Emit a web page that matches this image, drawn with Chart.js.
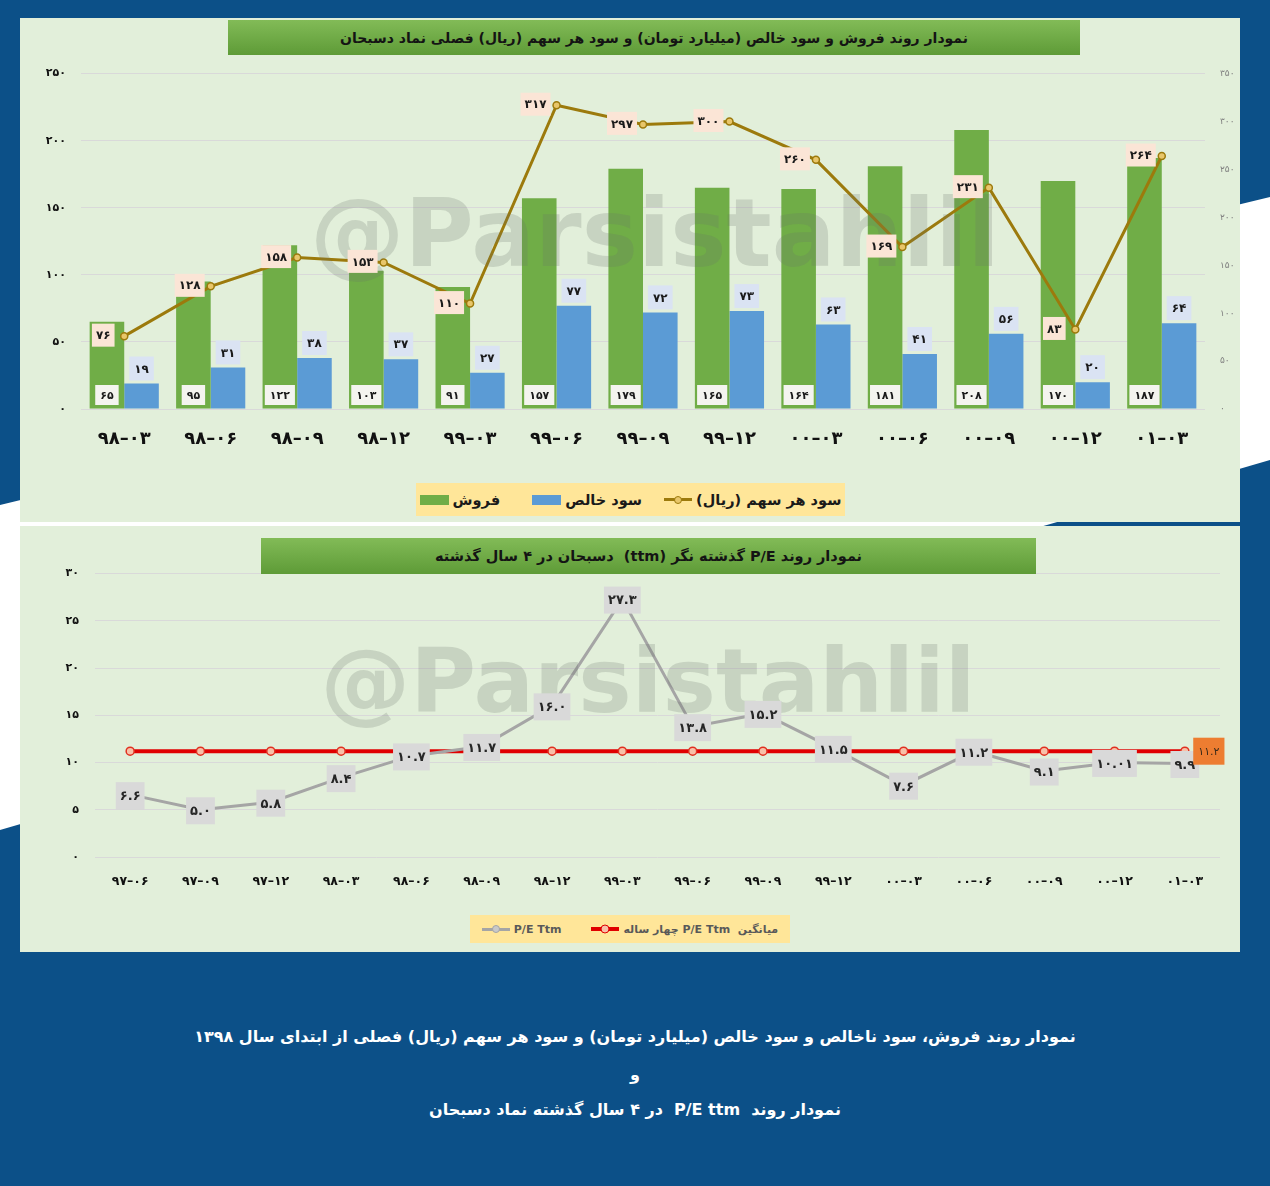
<!DOCTYPE html>
<html lang="fa">
<head>
<meta charset="utf-8">
<title>دسبحان</title>
<script src="https://cdn.jsdelivr.net/npm/chart.js@4.4.1/dist/chart.umd.min.js"></script>
<style>
  body { margin:0; width:1270px; height:1186px; position:relative; overflow:hidden; background:#0c5088; font-family:'DejaVu Sans', sans-serif; }
  #band { position:absolute; left:0; top:0; width:1270px; height:1186px; background:#fff;
          clip-path: polygon(0 505px, 1270px 197px, 1270px 460px, 0 830px); }
  .panel { position:absolute; left:20px; width:1220px; background:#e2efda; }
  .titlebar { position:absolute; background:linear-gradient(#82bb57,#5e9b37); color:#141414; font-weight:bold;
              display:flex; align-items:center; justify-content:center; white-space:nowrap; }
  canvas { position:absolute; }
  .legend { position:absolute; background:#ffe699; display:flex; align-items:center; justify-content:center; white-space:nowrap; }
  .legend .item { display:flex; align-items:center; }
  .rect { display:inline-block; width:29px; height:10px; margin-right:4px; }
  .lic { position:relative; display:inline-block; width:28px; height:3px; margin-right:4px; }
  .lic i { position:absolute; left:50%; top:50%; width:6px; height:6px; border-radius:50%; transform:translate(-50%,-50%); }
  .caption { position:absolute; left:0; width:1270px; text-align:center; color:#fff; font-weight:bold; font-size:16px; }
</style>
</head>
<body>
<div id="band"></div>
<div class="panel" style="top:18px;height:504px"></div>
<div class="panel" style="top:526px;height:426px"></div>

<canvas id="chart1" width="1220" height="408" style="left:20px;top:52px"></canvas>
<canvas id="chart2" width="1220" height="349" style="left:20px;top:551px"></canvas>

<div class="titlebar" dir="rtl" style="left:228px;top:20px;width:852px;height:35px;font-size:14px">نمودار روند فروش و سود خالص (میلیارد تومان) و سود هر سهم (ریال) فصلی نماد دسبحان</div>
<div class="titlebar" dir="rtl" style="left:261px;top:538px;width:775px;height:36px;font-size:14.5px">نمودار روند P/E گذشته نگر (ttm)&nbsp; دسبحان در ۴ سال گذشته</div>

<div class="legend" style="left:416px;top:483px;width:429px;height:33px;font-size:14.5px;font-weight:bold;color:#1a1a1a">
  <span class="item"><span class="rect" style="background:#70ad47"></span><span dir="rtl">فروش</span></span>
  <span class="item" style="margin-left:32px"><span class="rect" style="background:#5b9bd5"></span><span dir="rtl">سود خالص</span></span>
  <span class="item" style="margin-left:22px"><span class="lic" style="background:#9c7a0c"><i style="background:#e8c66a;border:1px solid #9c7a0c"></i></span><span dir="rtl">سود هر سهم (ریال)</span></span>
</div>
<div class="legend" style="left:470px;top:915px;width:320px;height:28px;font-size:11px;font-weight:bold;color:#595959">
  <span class="item"><span class="lic" style="background:#a5a5a5"><i style="background:#c9c9c9;border:1px solid #a5a5a5"></i></span><span>P/E Ttm</span></span>
  <span class="item" style="margin-left:30px"><span class="lic" style="background:#e00000;height:4px"><i style="background:#f8c0a8;border:1.5px solid #e00000;width:7px;height:7px"></i></span><span dir="rtl">میانگین&nbsp; P/E Ttm چهار ساله</span></span>
</div>

<div class="caption" dir="rtl" style="top:1027px">نمودار روند فروش، سود ناخالص و سود خالص (میلیارد تومان) و سود هر سهم (ریال) فصلی از ابتدای سال ۱۳۹۸</div>
<div class="caption" dir="rtl" style="top:1065px">و</div>
<div class="caption" dir="rtl" style="top:1100px">نمودار روند&nbsp; P/E ttm&nbsp; در ۴ سال گذشته نماد دسبحان</div>

<script>
// quarterly sales / net profit (billion toman) and EPS (rial)
const quarters = ['98-03', '98-06', '98-09', '98-12', '99-03', '99-06', '99-09', '99-12', '00-03', '00-06', '00-09', '00-12', '01-03'];
const sales = [65, 95, 122, 103, 91, 157, 179, 165, 164, 181, 208, 170, 187];
const netProfit = [19, 31, 38, 37, 27, 77, 72, 73, 63, 41, 56, 20, 64];
const eps = [76, 128, 158, 153, 110, 317, 297, 300, 260, 169, 231, 83, 264];

// P/E ttm for the last 4 years
const peQuarters = ['97-06', '97-09', '97-12', '98-03', '98-06', '98-09', '98-12', '99-03', '99-06', '99-09', '99-12', '00-03', '00-06', '00-09', '00-12', '01-03'];
const peTtm = [6.6, 5.0, 5.8, 8.4, 10.7, 11.7, 16.0, 27.3, 13.8, 15.2, 11.5, 7.6, 11.2, 9.1, 10.01, 9.9];
const peAvg = [11.2, 11.2, 11.2, 11.2, 11.2, 11.2, 11.2, 11.2, 11.2, 11.2, 11.2, 11.2, 11.2, 11.2, 11.2, 11.2];

const FONT = 'DejaVu Sans';

// western digits -> persian digits
function fa(s) {
    return String(s).replace(/\d/g, d => '۰۱۲۳۴۵۶۷۸۹'[d]);
}
// quarter label, keep "98-03" order when drawn
function faQ(s) {
    return fa(s).replace('-', '\u200E–\u200E');
}
function faDec(v) {
    const r = Math.abs(v * 10 - Math.round(v * 10)) < 1e-9 ? v.toFixed(1) : v.toFixed(2);
    return fa(r);
}

function drawBox(ctx, text, cx, cy, bg, color, font, padX, h) {
    ctx.font = font;
    const w = ctx.measureText(text).width + padX * 2;
    ctx.fillStyle = bg;
    ctx.fillRect(cx - w / 2, cy - h / 2, w, h);
    ctx.fillStyle = color;
    ctx.textAlign = 'center';
    ctx.textBaseline = 'middle';
    ctx.fillText(text, cx, cy + 1);
}

// big faded watermark over the plot
function watermark(cx, baseY, width) {
    return {
        id: 'watermark',
        afterDatasetsDraw(chart) {
            const ctx = chart.ctx;
            ctx.save();
            ctx.font = 'bold 100px ' + FONT;
            const w = ctx.measureText('@Parsistahlil').width;
            const size = 100 * width / w;
            ctx.font = 'bold ' + size + 'px ' + FONT;
            ctx.fillStyle = 'rgba(105,115,105,0.22)';
            ctx.textAlign = 'center';
            ctx.textBaseline = 'alphabetic';
            ctx.fillText('@Parsistahlil', cx, baseY);
            ctx.restore();
        }
    };
}

const labels1 = {
    id: 'labels1',
    afterDraw(chart) {
        const ctx = chart.ctx;
        const yScale = chart.scales.y;
        ctx.save();
        chart.getDatasetMeta(0).data.forEach((bar, i) => {
            drawBox(ctx, fa(sales[i]), bar.x, yScale.bottom - 14, '#f4f4ef', '#1a1a1a', 'bold 11px ' + FONT, 5, 20);
        });
        chart.getDatasetMeta(1).data.forEach((bar, i) => {
            drawBox(ctx, fa(netProfit[i]), bar.x, bar.y - 15, '#dae3f3', '#1a1a1a', 'bold 12px ' + FONT, 5, 24);
        });
        chart.getDatasetMeta(2).data.forEach((pt, i) => {
            drawBox(ctx, fa(eps[i]), pt.x - 21, pt.y - 1, '#fbe5d6', '#1a1a1a', 'bold 12px ' + FONT, 4, 23);
        });
        ctx.restore();
    }
};

const labels2 = {
    id: 'labels2',
    afterDraw(chart) {
        const ctx = chart.ctx;
        ctx.save();
        chart.getDatasetMeta(0).data.forEach((pt, i) => {
            drawBox(ctx, faDec(peTtm[i]), pt.x, pt.y + 1, '#d9d9d9', '#262626', 'bold 13px ' + FONT, 4, 27);
        });
        const avgPts = chart.getDatasetMeta(1).data;
        const last = avgPts[avgPts.length - 1];
        drawBox(ctx, faDec(peAvg[peAvg.length - 1]), last.x + 24, last.y, '#ed7d31', '#3a2a1a', '11px ' + FONT, 5, 27);
        ctx.restore();
    }
};

new Chart(document.getElementById('chart1'), {
    type: 'bar',
    data: {
        labels: quarters,
        datasets: [
            { type: 'bar', label: 'فروش', data: sales, backgroundColor: '#70ad47', yAxisID: 'y', order: 1,
              categoryPercentage: 0.8, barPercentage: 1.0 },
            { type: 'bar', label: 'سود خالص', data: netProfit, backgroundColor: '#5b9bd5', yAxisID: 'y', order: 1,
              categoryPercentage: 0.8, barPercentage: 1.0 },
            { type: 'line', label: 'سود هر سهم (ریال)', data: eps, yAxisID: 'y1', order: 0,
              borderColor: '#9c7a0c', borderWidth: 3, tension: 0,
              pointRadius: 3.5, pointBackgroundColor: '#e8c66a', pointBorderColor: '#9c7a0c', pointBorderWidth: 1.5 }
        ]
    },
    options: {
        responsive: false,
        animation: false,
        layout: { padding: { top: 5 } },
        plugins: { legend: { display: false }, tooltip: { enabled: false } },
        scales: {
            x: {
                grid: { display: false },
                border: { display: false },
                ticks: {
                    color: '#111',
                    font: { family: FONT, size: 18, weight: 'bold' },
                    padding: 12,
                    callback: (v, i) => faQ(quarters[i])
                },
                afterFit: s => { s.height = 51; }
            },
            y: {
                position: 'left',
                min: 0, max: 250,
                ticks: { stepSize: 50, color: '#111', font: { family: FONT, size: 11, weight: 'bold' }, padding: 15,
                         callback: v => fa(v) },
                grid: { color: '#d9d9d9', drawTicks: false },
                border: { display: false },
                afterFit: s => { s.width = 61; }
            },
            y1: {
                position: 'right',
                min: 0, max: 350,
                ticks: { stepSize: 50, color: '#7f7f7f', font: { family: FONT, size: 9 }, padding: 15,
                         callback: v => fa(v) },
                grid: { display: false, drawTicks: false },
                border: { display: false },
                afterFit: s => { s.width = 35; }
            }
        }
    },
    plugins: [watermark(635, 214, 690), labels1]
});

new Chart(document.getElementById('chart2'), {
    type: 'line',
    data: {
        labels: peQuarters,
        datasets: [
            { label: 'P/E Ttm', data: peTtm, borderColor: '#a5a5a5', borderWidth: 3, tension: 0,
              pointRadius: 0, order: 0 },
            { label: 'میانگین P/E Ttm چهار ساله', data: peAvg, borderColor: '#e00000', borderWidth: 4, tension: 0,
              pointRadius: 4, pointBackgroundColor: '#f8c0a8', pointBorderColor: '#e03020', pointBorderWidth: 1.5, order: 1 }
        ]
    },
    options: {
        responsive: false,
        animation: false,
        layout: { padding: { top: 3, right: 20 } },
        plugins: { legend: { display: false }, tooltip: { enabled: false } },
        scales: {
            x: {
                offset: true,
                grid: { display: false },
                border: { display: false },
                ticks: {
                    color: '#111',
                    font: { family: FONT, size: 12.5, weight: 'bold' },
                    padding: 9,
                    callback: (v, i) => faQ(peQuarters[i])
                },
                afterFit: s => { s.height = 43; }
            },
            y: {
                min: 0, max: 30,
                ticks: { stepSize: 5, color: '#111', font: { family: FONT, size: 11, weight: 'bold' }, padding: 16,
                         callback: v => fa(v) },
                grid: { color: '#d9d9d9', drawTicks: false },
                border: { display: false },
                afterFit: s => { s.width = 75; }
            }
        }
    },
    plugins: [watermark(628, 161, 655), labels2]
});
</script>
</body>
</html>
